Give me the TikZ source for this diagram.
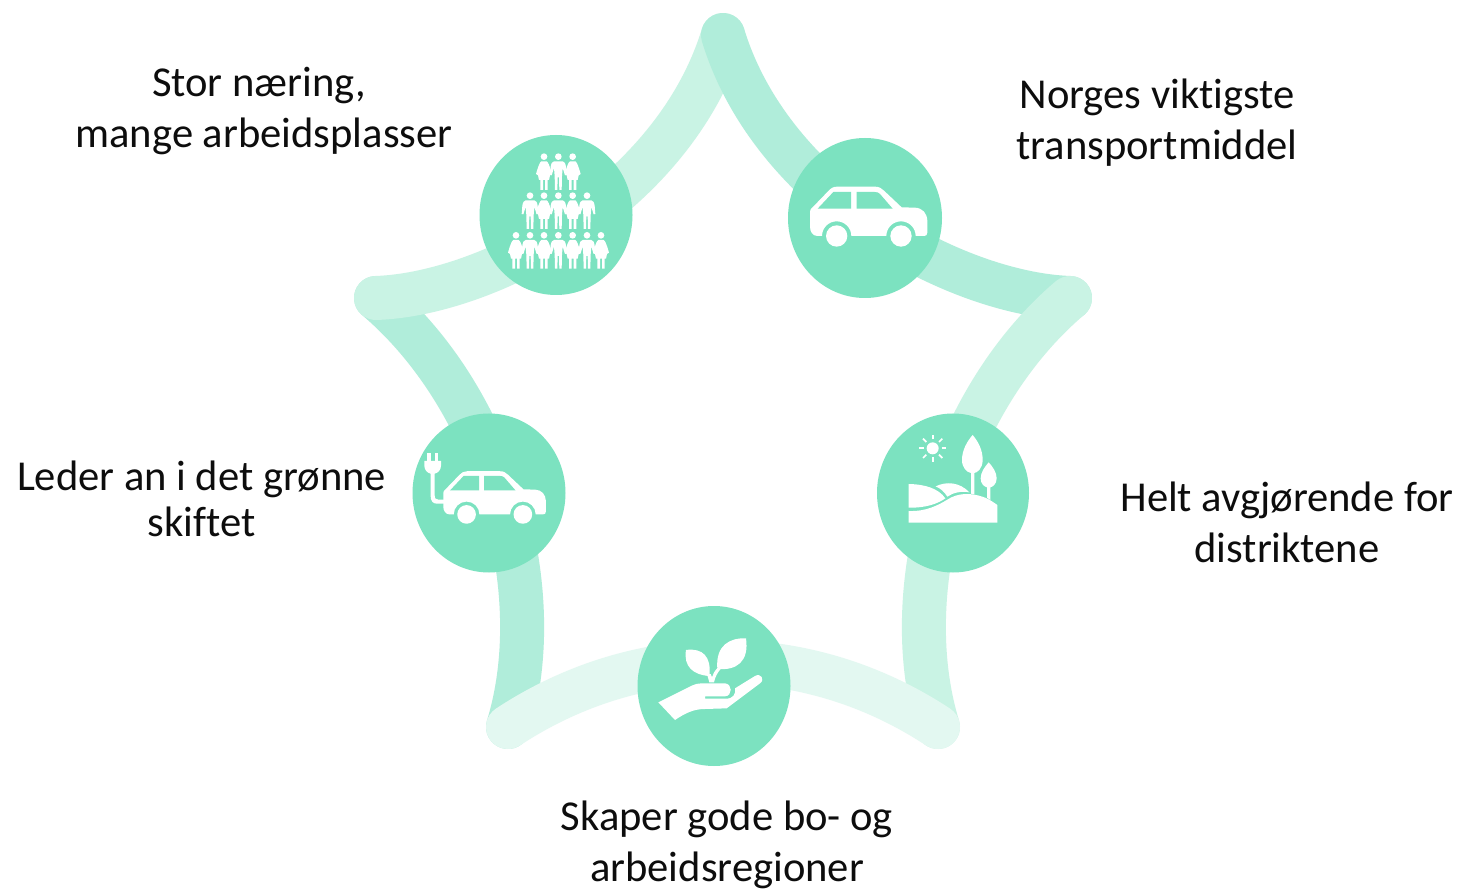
\documentclass[tikz,border=0pt]{standalone}
\usepackage{fontspec}
\setmainfont[Ligatures=NoCommon]{Carlito}
\usetikzlibrary{shapes.geometric}
\definecolor{disc}{HTML}{7CE2C0}
\definecolor{bandA}{HTML}{B0EDDA}
\definecolor{bandB}{HTML}{C9F3E4}
\definecolor{bandC}{HTML}{E3F8F1}
\tikzset{
  band/.style={line width=44pt,line cap=round},
  iconbg/.style={shape=ellipse,fill=disc,draw=none,inner sep=0pt},
  label/.style={font=\fontsize{42.6}{50.5}\selectfont,align=center,text=black!95,inner sep=0pt},
  ink/.style={fill=white,draw=none},
  gap/.style={fill=disc,draw=none},
  zoomed/.style={scale=1/3}
}
\newcommand{\carshape}{%
  \fill[ink] (90,245) -- (92,238) -- (146,182) .. controls (154,174) and (160,170) .. (172,170)
    -- (285,170) .. controls (298,170) and (304,175) .. (312,182) -- (365,232) -- (405,233)
    .. controls (428,234) and (441,250) .. (442,272) -- (442,308) .. controls (442,315) and (438,318) .. (432,318)
    -- (407,318) arc[start angle=0,end angle=-180,radius=44] -- (214,318)
    arc[start angle=0,end angle=-180,radius=44] -- (112,318)
    .. controls (98,318) and (90,305) .. (90,290) -- cycle;
  \fill[gap] (113,236) -- (160,186) -- (213,186) -- (213,236) -- cycle;
  \fill[gap] (230,186) -- (284,186) .. controls (292,186) and (296,188) .. (300,192) -- (338,236) -- (230,236) -- cycle;
  \fill[ink] (170,318) circle[radius=32];
  \fill[ink] (363,318) circle[radius=32];
}
\newcommand{\manfig}[2]{%
  \begin{scope}[shift={(#1,#2)}]
  \fill[ink] (0,0) circle[radius=10];
  \fill[ink] (-13,14) -- (13,14) .. controls (19,15) and (21,20) .. (23,30) -- (25,55) -- (20,56) -- (13,34) -- (11,58) -- (10,100) -- (3,100) -- (2,62) -- (-2,62) -- (-3,100) -- (-10,100) -- (-11,58) -- (-13,34) -- (-20,56) -- (-25,55) -- (-23,30) .. controls (-21,20) and (-19,15) .. (-13,14) -- cycle;
  \end{scope}}
\newcommand{\womanfig}[2]{%
  \begin{scope}[shift={(#1,#2)}]
  \fill[ink] (0,0) circle[radius=10];
  \fill[ink] (-8,14) -- (8,14) .. controls (12,16) and (16,24) .. (24,52) -- (18,56) -- (15,70) -- (11,70) -- (11,100) -- (3,100) -- (3,70) -- (-3,70) -- (-3,100) -- (-11,100) -- (-11,70) -- (-15,70) -- (-18,56) -- (-24,52) .. controls (-16,24) and (-12,16) .. (-8,14) -- cycle;
  \end{scope}}
\begin{document}
\begin{tikzpicture}[x=1pt,y=-1pt]
\useasboundingbox (0,0) rectangle (1460,890);
\fill[white] (0,0) rectangle (1460,890);
% star tips
\coordinate (tipT) at (723,35);
\coordinate (tipR) at (1070,298);
\coordinate (tipBR) at (938,727);
\coordinate (tipBL) at (508,727);
\coordinate (tipL) at (376,298);
% star bands
\draw[band,bandA] (tipBL) .. controls (550,590) and (496,400) .. (tipL);
\draw[band,bandB] (tipL) .. controls (490,294) and (674,196) .. (tipT);
\draw[band,bandA] (tipT) .. controls (772,196) and (956,294) .. (tipR);
\draw[band,bandB] (tipR) .. controls (950,400) and (896,590) .. (tipBR);
\draw[band,bandC] (tipBL) .. controls (640,640) and (806,640) .. (tipBR);
% discs
\node[iconbg,minimum width=153pt,minimum height=160pt] (people) at (556,215) {};
\node[iconbg,minimum width=154pt,minimum height=160pt] (car) at (865,218) {};
\node[iconbg,minimum width=153pt,minimum height=159pt] (evcar) at (489,493) {};
\node[iconbg,minimum width=152pt,minimum height=159pt] (land) at (953,493) {};
\node[iconbg,minimum width=153pt,minimum height=160pt] (hand) at (714,686) {};
% people pyramid
\begin{scope}[shift={(470,125)},zoomed]
  \womanfig{222}{95}\womanfig{308}{95}\manfig{265}{95}
  \manfig{180}{212}\manfig{265}{212}\manfig{351}{212}\womanfig{222}{212}\womanfig{308}{212}
  \womanfig{138}{331}\womanfig{222}{331}\womanfig{308}{331}\womanfig{393}{331}
  \manfig{180}{331}\manfig{265}{331}\manfig{351}{331}
\end{scope}
% car
\begin{scope}[shift={(780,130)},zoomed]
  \carshape
\end{scope}
% electric car
\begin{scope}[shift={(405,405)},zoomed]
  \begin{scope}[shift={(36,50)},scale=0.875]
    \carshape
  \end{scope}
  \fill[ink] (66,145) rectangle (77,172);
  \fill[ink] (89,145) rectangle (100,172);
  \fill[ink] (58,168) -- (108,168) -- (108,182) .. controls (108,196) and (98,204) .. (89,206) -- (89,270) .. controls (89,280) and (92,284) .. (100,284) -- (118,284) -- (118,296) -- (95,296) .. controls (84,296) and (77,288) .. (77,274) -- (77,206) .. controls (68,204) and (58,196) .. (58,182) -- cycle;
\end{scope}
% landscape
\begin{scope}[shift={(870,405)},zoomed]
  \fill[ink] (188,130) circle[radius=18];
  \foreach \a in {0,45,...,315}{
    \draw[white,line width=1.7pt] (188,130) ++(\a:27) -- ++(\a:14);
  }
  \fill[ink] (308,90) .. controls (325,110) and (338,135) .. (338,165) .. controls (338,190) and (322,203) .. (313,204) -- (313,268) -- (303,266) -- (303,204) .. controls (290,202) and (276,188) .. (276,165) .. controls (276,135) and (292,108) .. (308,90) -- cycle;
  \fill[ink] (356,172) .. controls (368,185) and (380,202) .. (380,220) .. controls (380,237) and (368,246) .. (361,247) -- (361,285) -- (351,278) -- (351,247) .. controls (342,245) and (332,236) .. (332,220) .. controls (332,202) and (344,186) .. (356,172) -- cycle;
  \fill[ink] (116,237) .. controls (165,238) and (205,250) .. (226,280) .. controls (205,295) and (170,309) .. (116,308) -- cycle;
  \fill[ink] (197,244) .. controls (230,228) and (270,232) .. (298,262) .. controls (275,258) and (250,262) .. (232,275) .. controls (224,262) and (212,250) .. (197,244) -- cycle;
  \fill[ink] (116,318) .. controls (170,320) and (205,300) .. (232,284) .. controls (262,264) and (300,262) .. (340,276) .. controls (352,280) and (362,286) .. (382,300) -- (382,353) -- (116,353) -- cycle;
\end{scope}
% hand with plant
\begin{scope}[shift={(630,600)},zoomed]
  \fill[ink] (168,150) .. controls (218,143) and (245,170) .. (238,228) .. controls (190,225) and (160,200) .. (168,150) -- cycle;
  \fill[ink] (348,115) .. controls (300,113) and (256,135) .. (262,207) .. controls (320,212) and (358,185) .. (348,115) -- cycle;
  \fill[ink] (231,222) -- (242,222) -- (246,232) .. controls (248,222) and (254,214) .. (262,204) -- (272,207) .. controls (262,218) and (255,232) .. (252,247) -- (238,247) -- cycle;
  \fill[ink] (85,307) -- (185,257) .. controls (195,252) and (205,250) .. (215,250) -- (285,250) .. controls (308,252) and (308,288) .. (285,289) -- (225,289) -- (225,296) -- (288,296) .. controls (310,296) and (318,282) .. (315,265) -- (375,228) .. controls (392,218) and (406,238) .. (390,250) -- (290,325) -- (225,327) .. controls (190,327) and (165,340) .. (135,360) -- cycle;
\end{scope}
% labels
\node[label] (t1) at (264,111) {Stor næring,\hspace*{10pt}\\mange arbeidsplasser};
\node[label] (t2) at (1157,122.5) {Norges viktigste\\transportmiddel};
\node[label] (t3) at (1287,522.5) {Helt avgjørende for\\distriktene};
\node[label] (t4) at (727,845) {Skaper gode bo- og\\arbeidsregioner};
\node[label,font=\fontsize{42.6}{46}\selectfont] (t5) at (201.5,499) {Leder an i det grønne\\skiftet};
\end{tikzpicture}
\end{document}
